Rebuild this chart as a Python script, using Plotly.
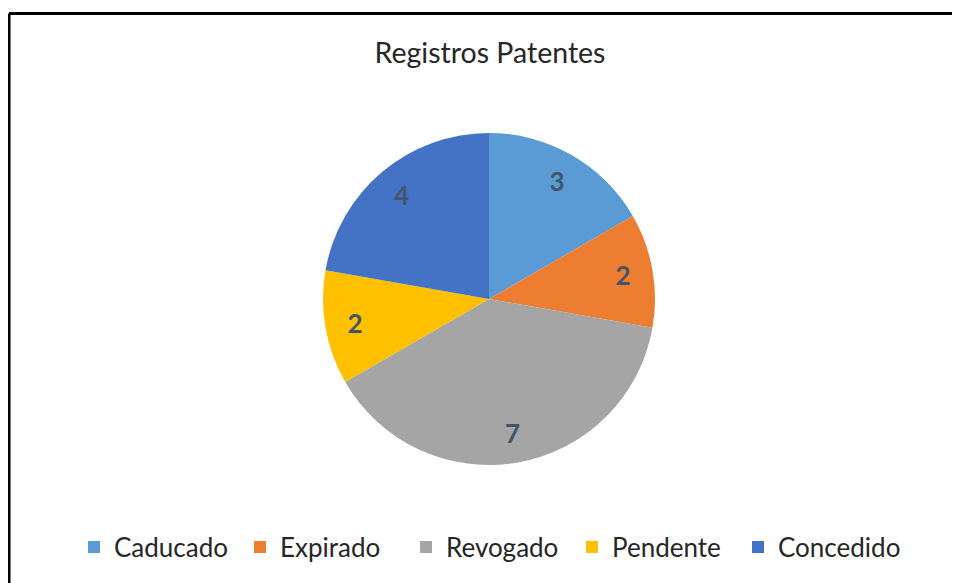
import plotly.graph_objects as go

categories = ["Caducado", "Expirado", "Revogado", "Pendente", "Concedido"]
values = [3, 2, 7, 2, 4]
colors = ["#5B9BD5", "#ED7D31", "#A5A5A5", "#FFC000", "#4472C4"]
title_text = "Registros Patentes"

FONT = "Lato, Carlito, Calibri, sans-serif"
OFF = 8  # page body margin offset

# main pie (no text)
fig = go.Figure()
fig.add_trace(
    go.Pie(
        labels=categories,
        values=values,
        sort=False,
        direction="clockwise",
        rotation=0,
        marker=dict(colors=colors, line=dict(width=0)),
        textinfo="none",
        hoverinfo="label+value+percent",
    )
)
# transparent ring used only to place value labels in outer part of slices
fig.add_trace(
    go.Pie(
        labels=categories,
        values=values,
        sort=False,
        direction="clockwise",
        rotation=0,
        hole=0.64,
        showlegend=False,
        marker=dict(colors=["rgba(0,0,0,0)"] * len(values), line=dict(width=0)),
        textinfo="value",
        textposition="inside",
        insidetextorientation="horizontal",
        textfont=dict(family=FONT, size=26, color="#44546A", weight="bold"),
        hoverinfo="skip",
    )
)

H = 583
top_px = 133 - OFF
bot_px = 465 - OFF
plot_h = bot_px - top_px

fig.update_layout(
    width=960,
    height=H,
    paper_bgcolor="white",
    plot_bgcolor="white",
    margin=dict(l=2, r=0, t=top_px, b=H - bot_px),
    title=dict(
        text=title_text,
        x=(490 - OFF) / 960,
        xanchor="center",
        xref="container",
        y=1 - (53 - OFF) / H,
        yanchor="middle",
        yref="container",
        font=dict(family=FONT, size=28.5, color="#262626"),
    ),
    showlegend=True,
    legend=dict(
        orientation="h",
        xref="container",
        x=(489 - OFF) / 960,
        xanchor="center",
        yref="container",
        y=1 - (547 - OFF) / H,
        yanchor="middle",
        entrywidth=121,
        entrywidthmode="pixels",
        font=dict(family=FONT, size=26, color="#262626"),
        itemclick=False,
    ),
    shapes=[
        dict(type="line", xref="paper", yref="paper",
             x0=(1 - 2) / 958, x1=1.05,
             y0=1 + (top_px - 5.5) / plot_h, y1=1 + (top_px - 5.5) / plot_h,
             line=dict(color="black", width=3)),
        dict(type="line", xref="paper", yref="paper",
             x0=(1 - 2) / 958, x1=(1 - 2) / 958,
             y0=1 + (top_px - 5.5) / plot_h, y1=-0.5,
             line=dict(color="black", width=3)),
    ],
)

fig.write_html("out.html")
